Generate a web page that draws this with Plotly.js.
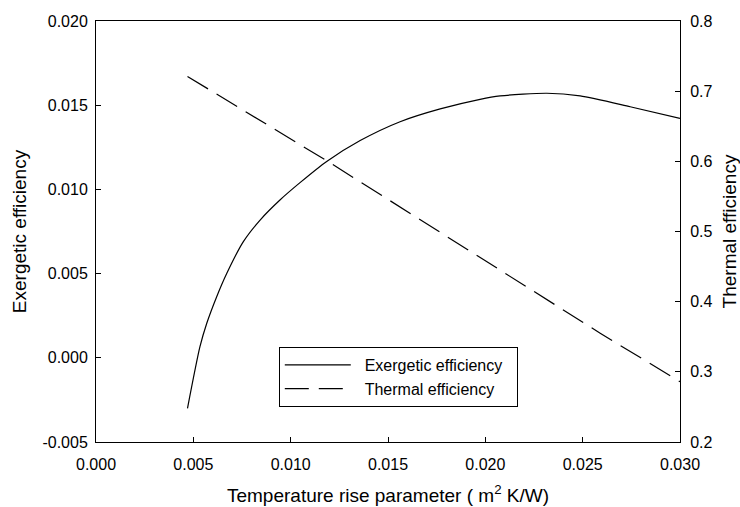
<!DOCTYPE html>
<html>
<head>
<meta charset="utf-8">
<script src="https://cdn.plot.ly/plotly-3.0.1.min.js"></script>
<style>html,body{margin:0;padding:0;background:#fff;}#chart{width:740px;height:507px;}</style>
</head>
<body>
<div id="chart"></div>
<script>
// Exergetic efficiency (left axis)
const exX = [0.0047, 0.00534, 0.00569, 0.0062, 0.00672, 0.00757, 0.00843, 0.00945, 0.01048, 0.01185, 0.01357, 0.01562, 0.01768, 0.01973, 0.02076, 0.02316, 0.02487, 0.02744, 0.0300];
const exY = [-0.0030, 0.00066, 0.00205, 0.00363, 0.00502, 0.0069, 0.00818, 0.00937, 0.0104, 0.01166, 0.01290, 0.01402, 0.01478, 0.01535, 0.01555, 0.01571, 0.01555, 0.01491, 0.01422];
// Thermal efficiency (right axis)
const thX = [0.0047, 0.0119, 0.0259, 0.0300];
const thY = [0.721, 0.600, 0.355, 0.286];

const xTicks = [0.000, 0.005, 0.010, 0.015, 0.020, 0.025, 0.030];
const yLeftTicks = [-0.005, 0.000, 0.005, 0.010, 0.015, 0.020];
const yRightTicks = [0.2, 0.3, 0.4, 0.5, 0.6, 0.7, 0.8];

const seriesNames = ['Exergetic efficiency', 'Thermal efficiency'];

const FONT = 'Liberation Sans, Arial, sans-serif';
const NB = '\u00a0';

const traces = [
  {x: exX, y: exY, name: NB + NB + seriesNames[0] + NB + NB, type: 'scatter', mode: 'lines',
   line: {color: '#000', width: 1.2, shape: 'spline', smoothing: 0.7}, yaxis: 'y'},
  {x: thX, y: thY, name: NB + NB + seriesNames[1], type: 'scatter', mode: 'lines',
   line: {color: '#000', width: 1.2, dash: '24px,10px'}, yaxis: 'y2'}
];

const layout = {
  width: 740, height: 507,
  margin: {l: 96, r: 60, t: 21, b: 65},
  paper_bgcolor: '#fff', plot_bgcolor: '#fff',
  font: {family: FONT, color: '#000', size: 16},
  showlegend: true,
  legend: {x: 0.313, y: 0.2257, xanchor: 'left', yanchor: 'top',
           bordercolor: '#000', borderwidth: 1, bgcolor: '#fff',
           font: {family: FONT, size: 16, color: '#000'}, itemwidth: 66},
  xaxis: {
    range: [0, 0.030], tickvals: xTicks, ticktext: xTicks.map(v => v.toFixed(3)),
    ticks: 'inside', ticklen: 5, tickcolor: '#000', showgrid: false, zeroline: false,
    showline: true, linecolor: '#000', linewidth: 1, mirror: true,
    tickfont: {size: 16}, ticklabelstandoff: 8,
    title: {text: 'Temperature rise parameter ( m<sup>2</sup> K/W)', font: {size: 19}, standoff: 16}
  },
  yaxis: {
    range: [-0.005, 0.020], tickvals: yLeftTicks, ticktext: yLeftTicks.map(v => v.toFixed(3)),
    ticks: 'inside', ticklen: 5, tickcolor: '#000', showgrid: false, zeroline: false,
    showline: true, linecolor: '#000', linewidth: 1,
    tickfont: {size: 16}, ticklabelstandoff: 4,
    title: {text: 'Exergetic efficiency', font: {size: 19}, standoff: 10}
  },
  yaxis2: {
    range: [0.2, 0.8], tickvals: yRightTicks, ticktext: yRightTicks.map(v => v.toFixed(1)),
    overlaying: 'y', side: 'right',
    ticks: 'inside', ticklen: 5, tickcolor: '#000', showgrid: false, zeroline: false,
    showline: true, linecolor: '#000', linewidth: 1,
    tickfont: {size: 16}, ticklabelstandoff: 6,
    title: {text: 'Thermal efficiency', font: {size: 19}, standoff: 12}
  }
};

Plotly.newPlot('chart', traces, layout, {displayModeBar: false, staticPlot: true});
</script>
</body>
</html>
